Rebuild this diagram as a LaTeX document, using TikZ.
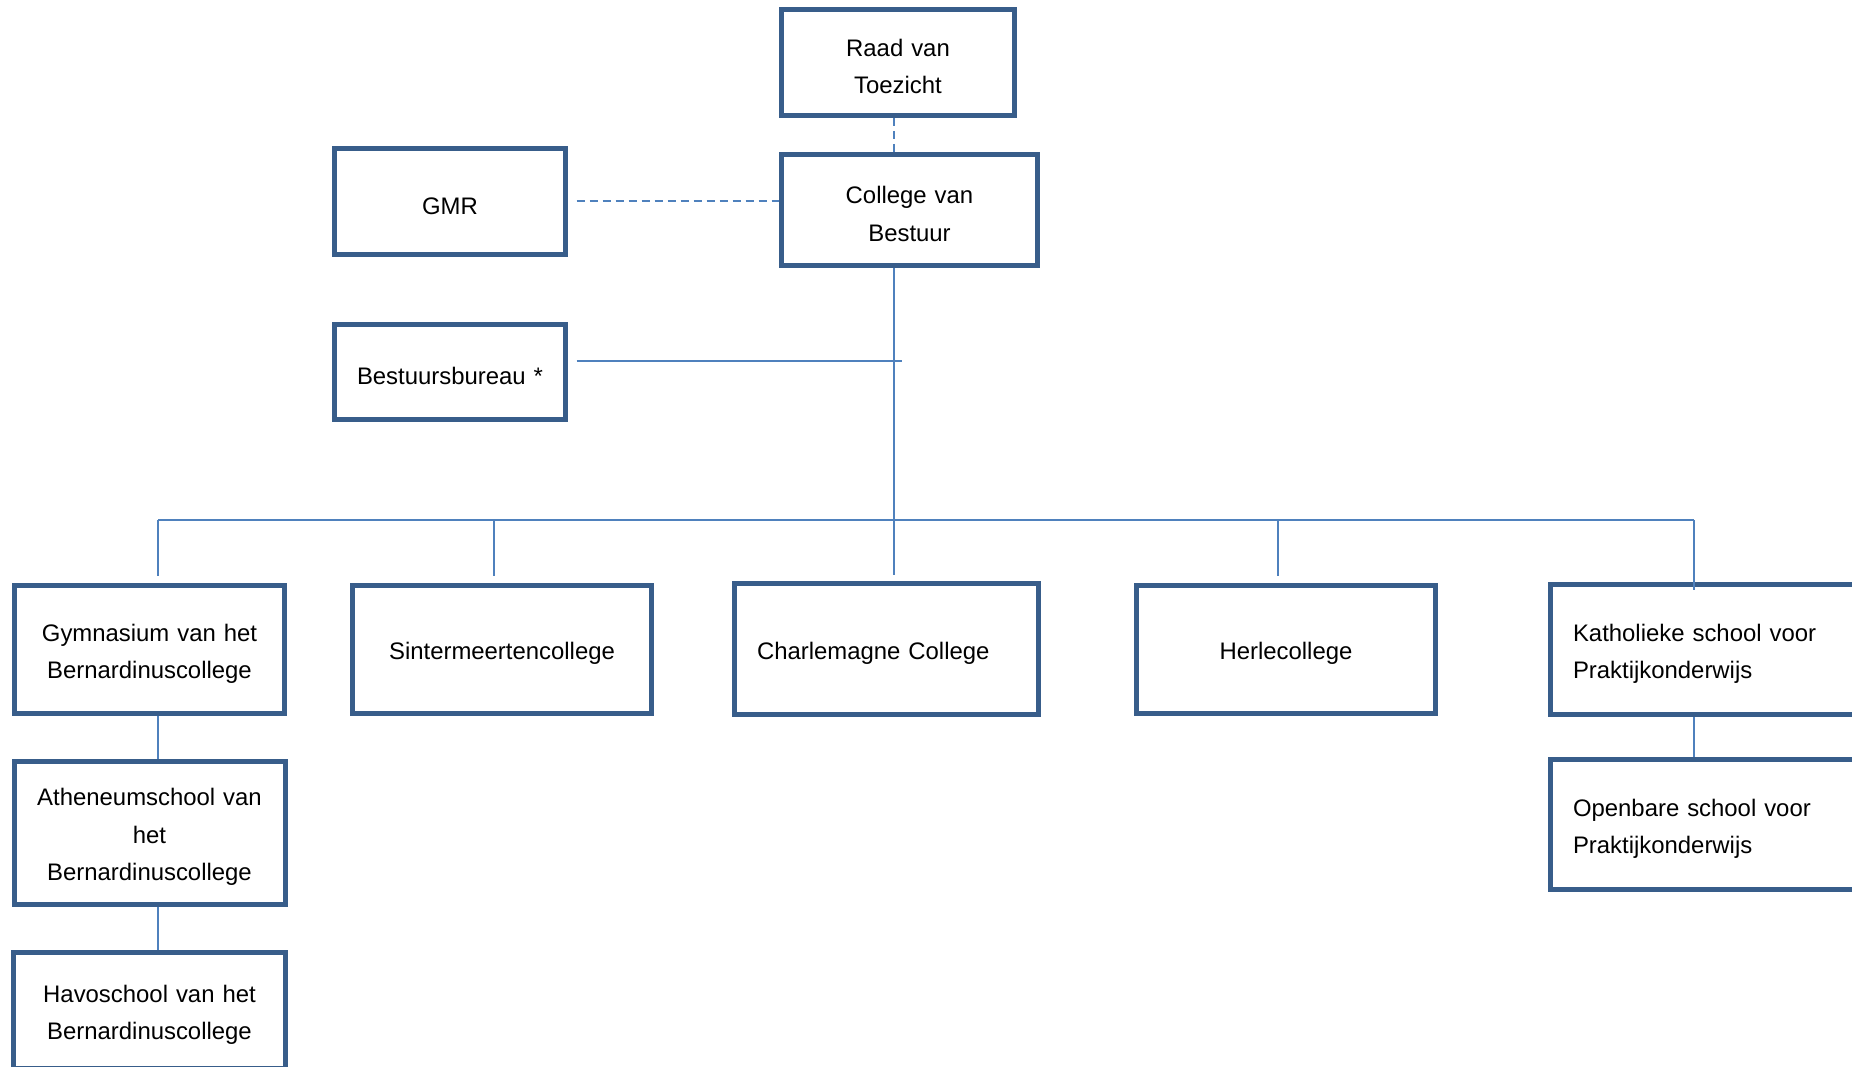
\documentclass[tikz,border=0pt]{standalone}
\usepackage{fontspec}
\setmainfont{Liberation Sans}
\usepackage{xcolor}
\usepackage{tikz}

\definecolor{boxblue}{HTML}{385D8A}
\definecolor{lineblue}{HTML}{4F81BD}

\tikzset{
    box/.style={draw=boxblue, line width=0.1cm, rectangle, fill=white, align=center,
        inner xsep=0.2cm, font=\fontsize{13.6pt}{21.3pt}\selectfont,
        execute at begin node={\rule{0pt}{14.5pt}}},
    leftbox/.style={box, align=left, inner xsep=0.45cm},
    conn/.style={draw=lineblue, line width=0.04cm},
    dashline/.style={conn, dash pattern=on 0.16cm off 0.1cm}
}

\begin{document}
\begin{tikzpicture}
        \clip (0,0) rectangle (37.04,21.34);

        % Nodes
        \node (college) [box, text width=4.72cm, minimum height=2.22cm] at (18.19,17.14) {College van\\Bestuur};
        \node (raad) [box, text width=4.26cm, minimum height=2.12cm] at (17.96,20.09) {Raad van\\Toezicht};
        \node (gmr) [box, text width=4.22cm, minimum height=2.12cm] at (9.00,17.31) {GMR};
        \node (bestuursbureau) [box, text width=4.22cm, minimum height=1.90cm, below of=gmr, node distance=3.41cm] {Bestuursbureau *};
        \coordinate (spine) at (17.88,10.94);

        \node (gymnasium) [box, text width=5.00cm, minimum height=2.56cm] at (2.99,8.35) {Gymnasium van het\\Bernardinuscollege};
        \node (atheneum) [box, text width=5.02cm, minimum height=2.86cm, below of=gymnasium, node distance=3.67cm] {Atheneumschool van\\het\\Bernardinuscollege};
        \node (havo) [box, text width=5.04cm, minimum height=2.32cm, below of=atheneum, node distance=3.55cm] {Havoschool van het\\Bernardinuscollege};
        \node (sintermeerten) [box, text width=5.58cm, minimum height=2.56cm, right of=gymnasium, node distance=7.05cm] {Sintermeertencollege};
        \node (charlemagne) [leftbox, text width=5.18cm, minimum height=2.62cm, right of=sintermeerten, node distance=7.69cm] {Charlemagne College};
        \node (herle) [box, text width=5.58cm, minimum height=2.56cm, right of=charlemagne, node distance=7.99cm] {Herlecollege};
        \node (katholieke) [leftbox, text width=5.24cm, minimum height=2.60cm, right of=herle, node distance=8.36cm] {Katholieke school voor\\Praktijkonderwijs};
        \node (openbare) [leftbox, text width=5.24cm, minimum height=2.60cm, below of=katholieke, node distance=3.50cm] {Openbare school voor\\Praktijkonderwijs};

        % Lines
        \draw[dashline] (raad.south -| spine) -- (college.north -| spine);
        \draw[dashline] ([xshift=0.17cm]gmr.east) -- (gmr.east -| college.west);
        \draw[conn] ([xshift=0.17cm,yshift=0.22cm]bestuursbureau.east) -- ([xshift=0.16cm,yshift=0.22cm]bestuursbureau.east -| spine);
        \draw[conn] (college.south -| spine) -- ([yshift=0.13cm]charlemagne.north -| spine);
        \draw[conn] ([xshift=0.17cm]gymnasium.north |- spine) -- ([xshift=-0.2cm]katholieke.north |- spine);
        \foreach \n/\dx/\dy in {gymnasium/0.17/0.13, sintermeerten/-0.16/0.13, herle/-0.16/0.13, katholieke/-0.2/-0.17}
            \draw[conn] ([xshift=\dx cm]\n.north |- spine) -- ([xshift=\dx cm,yshift=\dy cm]\n.north);
        \draw[conn] ([xshift=0.17cm]gymnasium.south) -- ([xshift=0.17cm]gymnasium.south |- atheneum.north);
        \draw[conn] ([xshift=0.16cm]atheneum.south) -- ([xshift=0.16cm]atheneum.south |- havo.north);
        \draw[conn] ([xshift=-0.2cm]katholieke.south) -- ([xshift=-0.2cm]katholieke.south |- openbare.north);
    \end{tikzpicture}
\end{document}
